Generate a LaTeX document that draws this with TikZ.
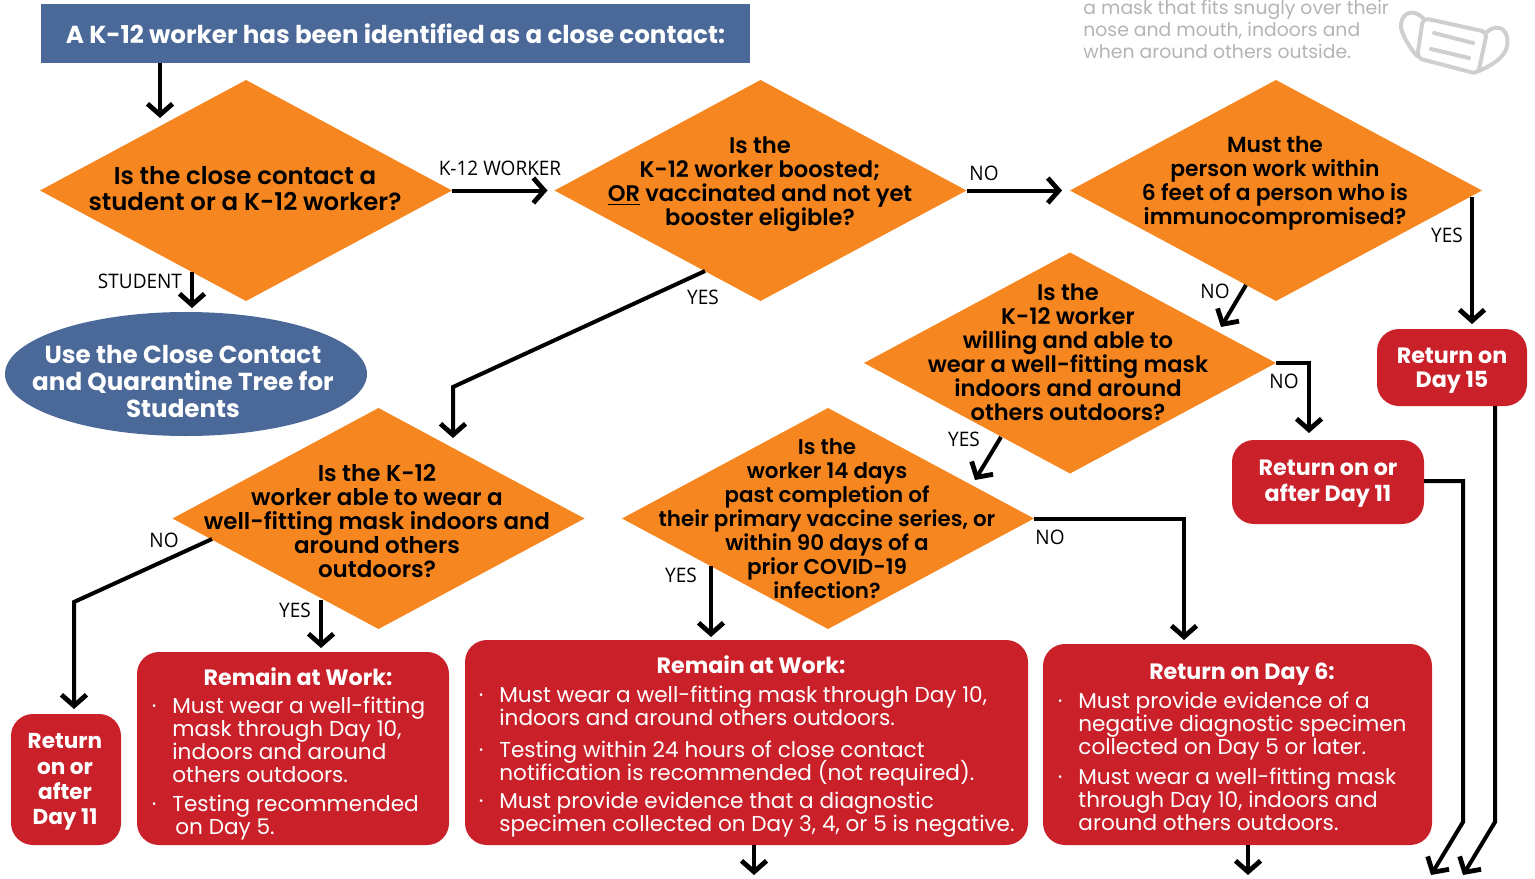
\documentclass[tikz,border=0pt]{standalone}
\usepackage{fontspec}
\setmainfont{Poppins SemiBold}
\newfontfamily\boldf{Poppins Bold}
\newfontfamily\regf{Poppins}
\newfontfamily\labf[FakeStretch=0.95]{Open Sans}
\usetikzlibrary{arrows.meta,shapes.geometric}
\definecolor{orangeC}{HTML}{F6861F}
\definecolor{redC}{HTML}{C9202A}
\definecolor{blueC}{HTML}{4A6898}
\definecolor{grayT}{HTML}{B4B4B4}
\definecolor{grayM}{HTML}{CFCFCF}
\tikzset{
  x=0.5pt,y=-0.5pt,
  dia/.style={diamond,fill=orangeC,inner sep=0pt,outer sep=0pt},
  diat/.style={align=center,inner sep=0pt,font=\fontsize{11.3}{12}\selectfont},
  redbox/.style={fill=redC,rounded corners=11pt,inner sep=0pt,outer sep=0pt},
  head/.style={inner sep=0pt,text=white,font=\boldf\fontsize{11.1}{12}\selectfont,align=center},
  body/.style={inner sep=0pt,text=white,align=left,anchor=north west,font=\regf\fontsize{10.8}{11.5}\selectfont},
  conn/.style={line width=2pt,-{Straight Barb[length=5.5pt,width=12.5pt,line width=2.4pt]}},
  lab/.style={inner sep=0pt,font=\labf\fontsize{10}{12}\selectfont},
}
\newcommand{\blt}{\llap{·\hspace{8pt}}}
\AtBeginDocument{\lineskiplimit=-20pt\relax}
\begin{document}
\begin{tikzpicture}
\useasboundingbox (0,0) rectangle (1535,878);
% header
\node[fill=blueC,minimum width=354.5pt,minimum height=29.5pt,inner sep=0pt,outer sep=0pt,text=white,font=\boldf\fontsize{12.3}{14}\selectfont] (hdr) at (395.5,33.5) {A K-12 worker has been identified as a close contact:};
% diamonds
\node[dia,minimum width=206pt,minimum height=110.5pt] (d1) at (246,190.5) {};
\node[dia,minimum width=206pt,minimum height=110.5pt] (d2) at (760.5,190.5) {};
\node[dia,minimum width=206pt,minimum height=110.5pt] (d3) at (1276,190.5) {};
\node[dia,minimum width=206pt,minimum height=110.5pt] (d4) at (1070,363) {};
\node[dia,minimum width=206pt,minimum height=110.5pt] (d5) at (828,518.5) {};
\node[dia,minimum width=206pt,minimum height=110.5pt] (d6) at (378.5,518.5) {};
\node[diat,font=\fontsize{12.2}{12}\selectfont] (t1) at (245,188.5) {Is the close contact a\\[1pt]student or a K-12 worker?};
\node[diat] (t2) at (760,184) {Is the\\K-12 worker boosted;\\\underline{OR} vaccinated and not yet\\booster eligible?};
\node[diat,font=\fontsize{10.9}{12}\selectfont] (t3) at (1275,183.5) {Must the\\person work within\\6 feet of a person who is\\immunocompromised?};
\node[diat] (t4) at (1068,352) {Is the\\K-12 worker\\willing and able to\\wear a well-fitting mask\\indoors and around\\others outdoors?};
\node[diat,font=\fontsize{10.7}{12}\selectfont] (t5) at (827,518.5) {Is the\\worker 14 days\\past completion of\\their primary vaccine series, or\\within 90 days of a\\prior COVID-19\\infection?};
\node[diat,font=\fontsize{11.5}{12}\selectfont] (t6) at (377,521) {Is the K-12\\worker able to wear a\\well-fitting mask indoors and\\around others\\outdoors?};
% ellipse
\node[ellipse,fill=blueC,minimum width=181pt,minimum height=62pt,inner sep=0pt,outer sep=0pt] (stud) at (186,374) {};
\node[head,font=\boldf\fontsize{12.3}{13.5}\selectfont] (studt) at (183,381) {Use the Close Contact\\and Quarantine Tree for\\Students};
% red boxes
\node[redbox,minimum width=75pt,minimum height=38.5pt] (r15) at (1452,367.5) {};
\node[head] at (1452,370.5) {Return on\\Day 15};
\node[redbox,minimum width=96pt,minimum height=42pt] (r11) at (1328,482) {};
\node[head] at (1328,483.5) {Return on or\\[1pt]after Day 11};
\node[redbox,minimum width=55pt,minimum height=65.5pt] (rl) at (66,779.5) {};
\node[head,font=\boldf\fontsize{10.8}{12.6}\selectfont] at (65,782) {Return\\on or\\after\\Day 11};
\node[redbox,minimum width=156pt,minimum height=96.5pt] (w1) at (293,748.5) {};
\node[redbox,minimum width=281.5pt,minimum height=102.5pt] (w2) at (746.5,742.5) {};
\node[redbox,minimum width=194.5pt,minimum height=100.5pt] (w3) at (1237.5,744.5) {};
\node[head] at (298,677) {Remain at Work:};
\node[head] at (751,665) {Remain at Work:};
\node[head] at (1242,674) {Return on Day 6:};
\node[body] at (172,696.5) {\blt Must wear a well-fitting\\mask through Day 10,\\indoors and around\\others outdoors.\\[3pt]\blt Testing recommended\\\hspace{1.5pt}on Day 5.};
\node[body] at (499,686) {\blt Must wear a well-fitting mask through Day 10,\\indoors and around others outdoors.\\[4.5pt]\blt Testing within 24 hours of close contact\\notification is recommended (not required).\\[2.5pt]\blt Must provide evidence that a diagnostic\\specimen collected on Day 3, 4, or 5 is negative.};
\node[body] at (1078,692) {\blt Must provide evidence of a\\negative diagnostic specimen\\collected on Day 5 or later.\\[3.5pt]\blt Must wear a well-fitting mask\\through Day 10, indoors and\\around others outdoors.};
% note + mask
\node[inner sep=0pt,anchor=north west,align=left,text=grayT,font=\regf\fontsize{9.4}{11}\selectfont] (note) at (1083,0) {a mask that fits snugly over their\\nose and mouth, indoors and\\when around others outside.};
\begin{scope}[draw=grayM,line width=2pt,line join=round,line cap=round]
\draw[rounded corners=3pt] (1423,18) -- (1487,32) -- (1478,74) -- (1417,58) -- cycle;
\draw (1423,18) .. controls (1408,4) and (1396,20) .. (1403,34) .. controls (1406,42) and (1412,50) .. (1417,56);
\draw (1487,32) .. controls (1498,22) and (1510,30) .. (1507,46) .. controls (1505,58) and (1490,66) .. (1479,71);
\draw (1434,33) -- (1473,43);
\draw (1431,49) -- (1469,58);
\end{scope}
% free ends
\coordinate (e1) at (754,875);
\coordinate (e2) at (1248,875);
\coordinate (e3) at (1463,875);
\coordinate (e4) at (1431,875);
\coordinate (a1) at (160,118);
\coordinate (s1) at (192,272);
\coordinate (b1) at (705,271);
\coordinate (b2) at (453,438);
\coordinate (c1) at (1246,285);
\coordinate (c2) at (1221,327);
\coordinate (f1) at (1001,437);
\coordinate (f2) at (975,480);
\coordinate (g1) at (1472,197);
\coordinate (h1) at (711,566);
\coordinate (i1) at (212,539);
\coordinate (j1) at (321,600);
% connectors
\draw[conn] (hdr.south -| a1) -- (a1);
\draw[conn] (s1) -- (192,308);
\draw[conn] (d1.east) -- ([xshift=-3.5pt]d2.west);
\draw[conn] (d2.east) -- ([xshift=-4pt]d3.west);
\draw[conn] (b1) -- (453,387) -- (b2);
\draw[conn] (g1) -- (1472,324);
\draw[conn] (c1) -- (c2);
\draw[conn] (d4.east) -- (1309,363) -- (1309,433);
\draw[conn] (f1) -- (f2);
\draw[conn] (d5.east) -- (1184,518.5) -- (1184,640);
\draw[conn] (h1) -- (711,637);
\draw[conn] (i1) -- (74,602) -- (74,709);
\draw[conn] (j1) -- (321,648);
\draw[conn] (754,845) -- (e1);
\draw[conn] (1248,845) -- (e2);
\draw[conn] (1495,406) -- (1495,822) -- (e3);
\draw[conn] (r11.east |- 0,481) -- (1463,481) -- (1463,822) -- (e4);
% labels
\node[lab] (l1) at (500,168) {K-12 WORKER};
\node[lab] (l2) at (140,281) {STUDENT};
\node[lab] (l3) at (984,173) {NO};
\node[lab] (l4) at (703,297) {YES};
\node[lab] (l5) at (1447,235) {YES};
\node[lab] (l6) at (1215,291) {NO};
\node[lab] (l7) at (1284,381) {NO};
\node[lab] (l8) at (964,439) {YES};
\node[lab] (l9) at (1050,537) {NO};
\node[lab] (l10) at (681,575) {YES};
\node[lab] (l11) at (164,540) {NO};
\node[lab] (l12) at (295,610) {YES};
\end{tikzpicture}
\end{document}
